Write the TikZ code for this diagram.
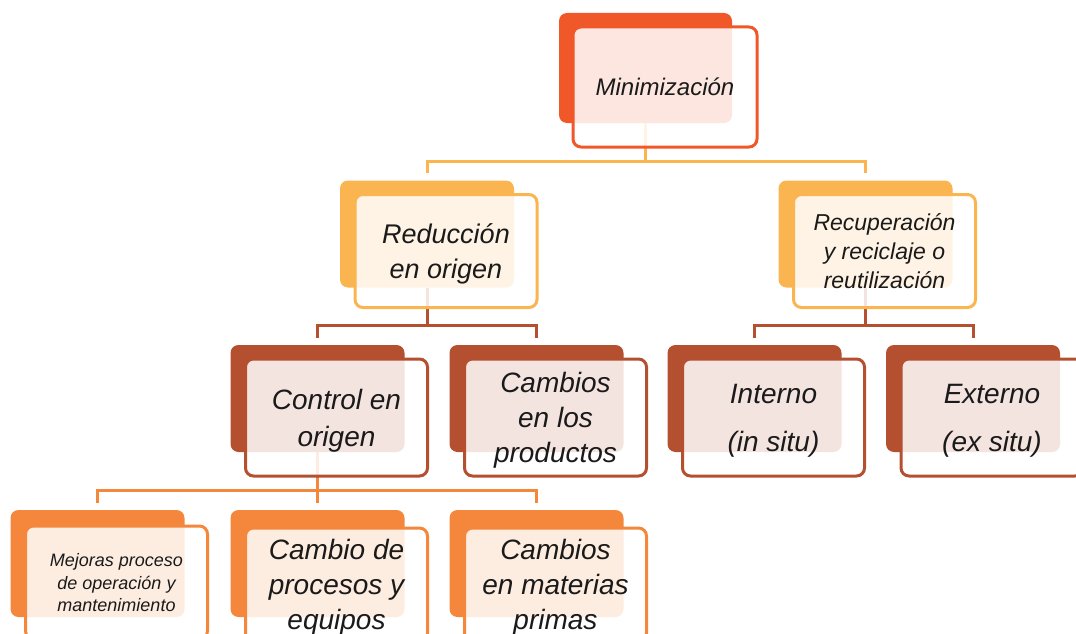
\documentclass[tikz,border=0pt]{standalone}
\usepackage{fontspec}
\setmainfont{Liberation Sans}
\usepackage{tikz}
\definecolor{lvlA}{RGB}{240,88,42}
\definecolor{lvlB}{RGB}{250,180,80}
\definecolor{lvlC}{RGB}{180,80,48}
\definecolor{lvlD}{RGB}{245,135,60}
\definecolor{ink}{RGB}{26,26,26}

\begin{document}
\begin{tikzpicture}[x=1pt, y=-1pt, font=\itshape,
  back/.style={fill=#1, rounded corners=8pt, minimum width=174pt, minimum height=107pt, inner sep=0pt},
  front/.style={draw=#1, line width=3pt, fill=white, fill opacity=0.85, text opacity=1, text=ink,
    rounded corners=8pt, minimum width=182pt, minimum height=113pt, inner sep=0pt, align=center,
    text depth=0pt},
  link/.style={draw=#1, line width=3pt, shorten >=7pt}]
\useasboundingbox (0,0) rectangle (1076,634);
\clip (0,0) rectangle (1076,634);
% back cards
\node[back=lvlA, minimum width=173pt, minimum height=110pt] (bA) at (645.5,68) {};
\foreach \n/\x/\y/\c in {B1/427/234/lvlB, B2/865.5/234/lvlB,
  C1/317.5/398.5/lvlC, C2/536.5/398.5/lvlC, C3/754.5/398.5/lvlC, C4/973/398.5/lvlC,
  D1/97.5/563.5/lvlD, D2/317.5/563.5/lvlD, D3/536.5/563.5/lvlD}
  \node[back=\c] (b\n) at (\x,\y) {};
% links
\foreach \p/\k/\c in {A/B1/lvlB, A/B2/lvlB, B1/C1/lvlC, B1/C2/lvlC, B2/C3/lvlC, B2/C4/lvlC,
  C1/D1/lvlD, C1/D2/lvlD, C1/D3/lvlD}
  \draw[link=\c] (b\p.south) -- ++(0,38) -| (b\k.north);
% front cards
\node[front=lvlA, minimum width=184pt, minimum height=120pt, font=\itshape\fontsize{24}{29}\selectfont]
  (fA) at ([xshift=19.5pt,yshift=-19pt]bA.center) {Minimización};
\node[front=lvlB, font=\itshape\fontsize{27}{35}\selectfont]
  (fB1) at ([xshift=19pt,yshift=-17pt]bB1.center) {Reducción\\en origen};
\node[front=lvlB, font=\itshape\fontsize{23}{29}\selectfont]
  (fB2) at ([xshift=19pt,yshift=-17pt]bB2.center) {Recuperación\\y reciclaje o\\reutilización};
\node[front=lvlC, minimum height=117pt, font=\itshape\fontsize{28}{37}\selectfont]
  (fC1) at ([xshift=19pt,yshift=-19pt]bC1.center) {Control en\\origen};
\node[front=lvlC, minimum height=117pt, font=\itshape\fontsize{28}{35}\selectfont]
  (fC2) at ([xshift=19pt,yshift=-19pt]bC2.center) {Cambios\\en los\\productos};
\node[front=lvlC, minimum height=117pt, font=\itshape\fontsize{28}{48}\selectfont]
  (fC3) at ([xshift=19pt,yshift=-19pt]bC3.center) {Interno\\(in situ)};
\node[front=lvlC, minimum height=117pt, font=\itshape\fontsize{28}{48}\selectfont]
  (fC4) at ([xshift=19pt,yshift=-19pt]bC4.center) {Externo\\(ex situ)};
\node[front=lvlD, font=\itshape\fontsize{18}{22.5}\selectfont]
  (fD1) at ([xshift=19pt,yshift=-19pt]bD1.center) {Mejoras proceso\\de operación y\\mantenimiento};
\node[front=lvlD, font=\itshape\fontsize{28}{35}\selectfont]
  (fD2) at ([xshift=19pt,yshift=-21pt]bD2.center) {Cambio de\\procesos y\\equipos};
\node[front=lvlD, font=\itshape\fontsize{28}{35}\selectfont]
  (fD3) at ([xshift=19pt,yshift=-21pt]bD3.center) {Cambios\\en materias\\primas};
\end{tikzpicture}
\end{document}
